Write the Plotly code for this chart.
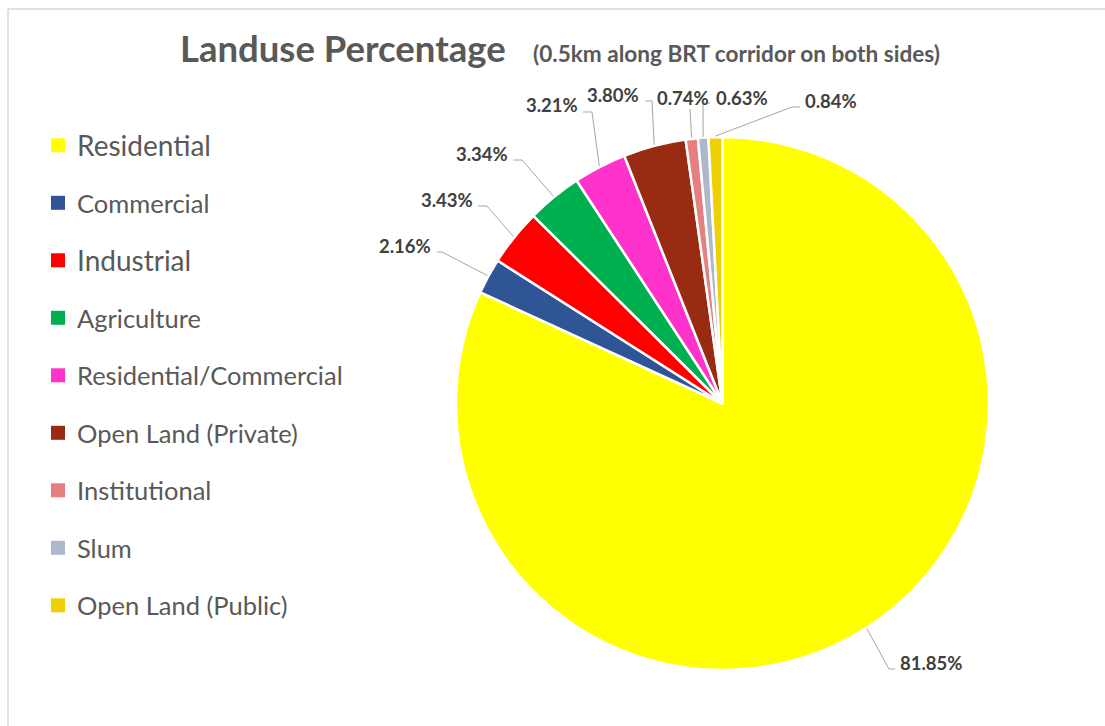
import math
import plotly.graph_objects as go

# Land-use shares within 0.5 km on both sides of the BRT corridor
categories = [
    "Residential",
    "Commercial",
    "Industrial",
    "Agriculture",
    "Residential/Commercial",
    "Open Land (Private)",
    "Institutional",
    "Slum",
    "Open Land (Public)",
]
shares = [81.85, 2.16, 3.43, 3.34, 3.21, 3.80, 0.74, 0.63, 0.84]

colors = [
    "#FFFF00",
    "#2F5597",
    "#FF0000",
    "#00B050",
    "#FF33CC",
    "#992B13",
    "#E67F7F",
    "#ADB9CA",
    "#EED004",
]

# Canvas and pie geometry (pixels)
W, H = 1105, 726
CX, CY, R = 722.5, 403.5, 266.5


def px(x):
    return x / W


def py(y):
    return 1 - y / H


# Data-label placement: elbow point, end of the short tick, text anchor, text y, anchor side
label_layout = [
    ((889, 669), (895, 669), 898, 663, "left"),
    ((442, 252), (437, 252), 433, 246, "right"),
    ((487, 206), (478, 206), 475, 200, "right"),
    ((522, 160), (513, 160), 510, 154, "right"),
    ((592, 112), (583, 112), 580, 105, "right"),
    ((652, 101), (645, 101), 641, 95, "right"),
    ((690, 109), (690, 109), 683, 98, "center"),
    ((703, 103), (710, 103), 714, 98, "left"),
    ((792, 107), (800, 107), 803, 101, "left"),
]

# Legend styling
legend_x_box = 51
legend_x_text = 75
legend_y0 = 145.3
legend_step = 57.5
legend_font_px = [28, 25.5, 28, 25.5, 25.5, 25.5, 25.5, 25.5, 25.5]

TEXT_GREY = "#595959"
LABEL_GREY = "#404040"
LEADER_GREY = "#A6A6A6"
FONT = "Lato"

fig = go.Figure(
    go.Pie(
        labels=categories,
        values=shares,
        sort=False,
        direction="clockwise",
        rotation=0,
        marker=dict(colors=colors, line=dict(color="white", width=2.5)),
        textinfo="none",
        hovertemplate="%{label}: %{value:.2f}%<extra></extra>",
        domain=dict(x=[px(CX - R), px(CX + R)], y=[py(CY + R), py(CY - R)]),
        showlegend=False,
    )
)

shapes = []
annotations = []

# Percentage labels with leader lines starting at each slice's mid-angle
total = sum(shares)
cum = 0.0
for val, (elbow, tick, tx, ty, side) in zip(shares, label_layout):
    mid = (cum + val / 2) / total * 2 * math.pi
    cum += val
    ex = CX + (R + 1) * math.sin(mid)
    ey = CY - (R + 1) * math.cos(mid)
    path = f"M {px(ex)},{py(ey)} L {px(elbow[0])},{py(elbow[1])} L {px(tick[0])},{py(tick[1])}"
    shapes.append(
        dict(type="path", path=path, xref="paper", yref="paper",
             line=dict(color=LEADER_GREY, width=1))
    )
    annotations.append(
        dict(text=f"<b>{val:.2f}%</b>", x=px(tx), y=py(ty), xref="paper", yref="paper",
             xanchor=side, yanchor="middle", showarrow=False,
             font=dict(family=FONT, size=18.5, color=LABEL_GREY))
    )

# Legend: colour squares and category names
for i, (cat, col) in enumerate(zip(categories, colors)):
    yc = legend_y0 + i * legend_step
    shapes.append(
        dict(type="rect", xref="paper", yref="paper",
             x0=px(legend_x_box), x1=px(legend_x_box + 14),
             y0=py(yc + 7), y1=py(yc - 7),
             fillcolor=col, line=dict(width=0))
    )
    annotations.append(
        dict(text=cat, x=px(legend_x_text), y=py(yc), xref="paper", yref="paper",
             xanchor="left", yanchor="middle", showarrow=False,
             font=dict(family=FONT, size=legend_font_px[i], color=TEXT_GREY))
    )

# Title and subtitle
annotations.append(
    dict(text="<b>Landuse Percentage</b>", x=px(178), y=py(48), xref="paper", yref="paper",
         xanchor="left", yanchor="middle", showarrow=False,
         font=dict(family=FONT, size=36.5, color=TEXT_GREY))
)
annotations.append(
    dict(text="<b>(0.5km along BRT corridor on both sides)</b>", x=px(531), y=py(54),
         xref="paper", yref="paper", xanchor="left", yanchor="middle", showarrow=False,
         font=dict(family=FONT, size=22.6, color=TEXT_GREY))
)

# Chart-area frame
shapes.append(dict(type="line", xref="paper", yref="paper", x0=px(8), x1=1, y0=py(9), y1=py(9),
                   line=dict(color="#D9D9D9", width=1.5)))
shapes.append(dict(type="line", xref="paper", yref="paper", x0=px(8), x1=px(8), y0=py(9), y1=0,
                   line=dict(color="#D9D9D9", width=1.5)))

fig.update_layout(
    width=W,
    height=H,
    margin=dict(l=0, r=0, t=0, b=0),
    paper_bgcolor="white",
    plot_bgcolor="white",
    shapes=shapes,
    annotations=annotations,
    font=dict(family=FONT, color=TEXT_GREY),
)

fig.write_html("out.html")
